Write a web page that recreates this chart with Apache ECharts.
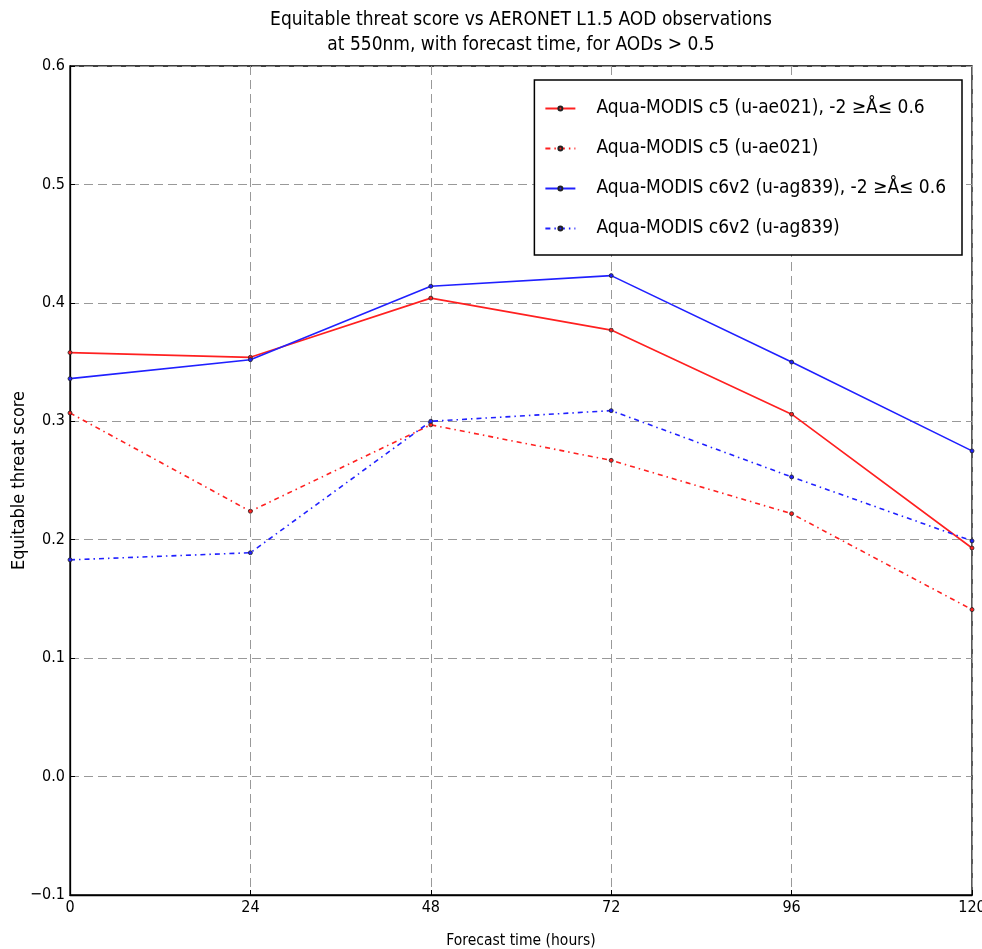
<!DOCTYPE html>
<html><head><meta charset="utf-8">
<script src="https://cdn.jsdelivr.net/npm/echarts@6/dist/echarts.min.js"></script>
<style>html,body{margin:0;padding:0;background:#fff}#c{width:982px;height:949px}</style>
</head><body><div id="c"></div>
<script>
const hours = [0, 24, 48, 72, 96, 120];
const c5Filtered = [0.358, 0.354, 0.404, 0.377, 0.306, 0.193];
const c5All = [0.307, 0.224, 0.297, 0.267, 0.222, 0.141];
const c6Filtered = [0.336, 0.352, 0.414, 0.423, 0.350, 0.275];
const c6All = [0.183, 0.189, 0.300, 0.309, 0.253, 0.199];
const names = [
  'Aqua-MODIS c5 (u-ae021), -2 \u2265\u00C5\u2264 0.6',
  'Aqua-MODIS c5 (u-ae021)',
  'Aqua-MODIS c6v2 (u-ag839), -2 \u2265\u00C5\u2264 0.6',
  'Aqua-MODIS c6v2 (u-ag839)'
];
const FONT = '"DejaVu Sans Condensed","Liberation Sans",Arial,sans-serif';
const pair = arr => hours.map((h, i) => [h, arr[i]]);
const dashdot = [5, 4, 1.5, 4];
function mk(name, data, color, dashed) {
  return {
    name, type: 'line', data: pair(data),
    symbol: 'circle', symbolSize: 4,
    itemStyle: { color: color, borderColor: '#222', borderWidth: 0.8 },
    lineStyle: { color: color, width: 1.6, type: dashed ? dashdot : 'solid' },
    emphasis: { disabled: true }, animation: false
  };
}
const chart = echarts.init(document.getElementById('c'));
chart.setOption({
  backgroundColor: '#fff',
  animation: false,
  graphic: [
    { type: 'text', silent: true, x: 521, y: 8,
      style: { text: 'Equitable threat score vs AERONET L1.5 AOD observations\nat 550nm, with forecast time, for AODs > 0.5',
        font: '19px ' + FONT, fill: '#000', align: 'center', lineHeight: 25 } },
    { type: 'rect', silent: true, z: 0,
      shape: { x: 70, y: 66, width: 902, height: 829 },
      style: { fill: 'none', stroke: '#000', lineWidth: 1.3 } }
  ],
  legend: {
    orient: 'vertical', right: 20, top: 80,
    data: names,
    itemWidth: 30, itemHeight: 5, itemGap: 21,
    padding: [19, 16, 17, 10],
    borderColor: '#000', borderWidth: 1.5, backgroundColor: '#fff',
    textStyle: { fontFamily: FONT, fontSize: 19, color: '#000', padding: [0, 0, 0, 16] },
    selectedMode: false
  },
  grid: { left: 70, right: 10, top: 66, bottom: 54, containLabel: false, outerBoundsMode: 'none' },
  xAxis: {
    type: 'value', min: 0, max: 120, interval: 24,
    name: 'Forecast time (hours)', nameLocation: 'middle', nameGap: 38, nameMoveOverlap: false,
    nameTextStyle: { fontFamily: FONT, fontSize: 15.5, color: '#000' },
    axisLine: { show: true, onZero: false, lineStyle: { color: '#000', width: 1.3 } },
    axisTick: { show: true, inside: true, length: 5, lineStyle: { color: '#000' } },
    axisLabel: { fontFamily: FONT, fontSize: 16, color: '#000', margin: 5 },
    splitLine: { show: true, lineStyle: { color: '#999', type: [9, 5], width: 1 } }
  },
  yAxis: {
    type: 'value', min: -0.1, max: 0.6, interval: 0.1,
    name: 'Equitable threat score', nameLocation: 'middle', nameGap: 42, nameMoveOverlap: false,
    nameTextStyle: { fontFamily: FONT, fontSize: 18, color: '#000' },
    axisLine: { show: true, onZero: false, lineStyle: { color: '#000', width: 1.3 } },
    axisTick: { show: true, inside: true, length: 5, lineStyle: { color: '#000' } },
    axisLabel: { fontFamily: FONT, fontSize: 16, color: '#000', margin: 5,
      formatter: v => { const s = (Math.round(v * 10) / 10).toFixed(1); return s.replace('-', '\u2212'); } },
    splitLine: { show: true, lineStyle: { color: '#999', type: [9, 5], width: 1 } }
  },
  series: [
    mk(names[0], c5Filtered, '#ff2020', false),
    mk(names[1], c5All, '#ff2020', true),
    mk(names[2], c6Filtered, '#2020ff', false),
    mk(names[3], c6All, '#2020ff', true)
  ]
});
</script></body></html>
